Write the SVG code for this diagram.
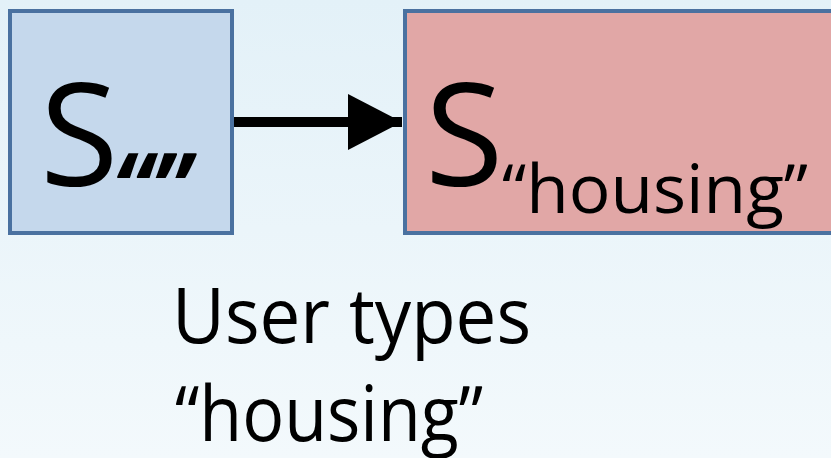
<svg xmlns="http://www.w3.org/2000/svg" width="831" height="458" viewBox="0 0 831 458">
  <defs>
    <linearGradient id="bg" x1="0" y1="0" x2="0" y2="1">
      <stop offset="0" stop-color="#e3f1f8"/>
      <stop offset="1" stop-color="#f3f9fc"/>
    </linearGradient>
    <marker id="head" markerUnits="userSpaceOnUse" markerWidth="56" markerHeight="56" refX="54" refY="28" orient="auto">
      <path d="M0,0 L54,28 L0,56 Z" fill="#000"/>
    </marker>
  </defs>
  <style>
    .box { stroke: #4a71a0; stroke-width: 4; }
    .txt { font-family: "Open Sans", "Liberation Sans", sans-serif; fill: #000; }
    .big { font-size: 143px; }
    .quotes { font-size: 100px; font-style: italic; font-weight: 700; }
    .sub { font-size: 68px; }
    .label { font-size: 77px; }
  </style>
  <rect width="831" height="458" fill="url(#bg)"/>

  <g id="connectors">
    <line x1="233" y1="122" x2="402" y2="122" stroke="#000" stroke-width="10" marker-end="url(#head)"/>
  </g>

  <g id="state-empty">
    <rect class="box" x="10" y="11" width="222" height="222" fill="#c5d8ec"/>
    <text class="txt big" x="40" y="186">S</text>
    <text class="txt quotes" x="112" y="225" textLength="78" lengthAdjust="spacingAndGlyphs">“”</text>
  </g>

  <g id="state-housing">
    <rect class="box" x="405" y="11" width="440" height="222" fill="#e1a7a6"/>
    <text class="txt big" x="425" y="186">S</text>
    <text class="txt sub" x="502" y="213" textLength="306" lengthAdjust="spacingAndGlyphs">“housing”</text>
  </g>

  <g id="caption">
    <text class="txt label" x="172" y="343" textLength="359" lengthAdjust="spacingAndGlyphs">User types</text>
    <text class="txt label" x="175" y="441" textLength="308" lengthAdjust="spacingAndGlyphs">“housing”</text>
  </g>
</svg>
